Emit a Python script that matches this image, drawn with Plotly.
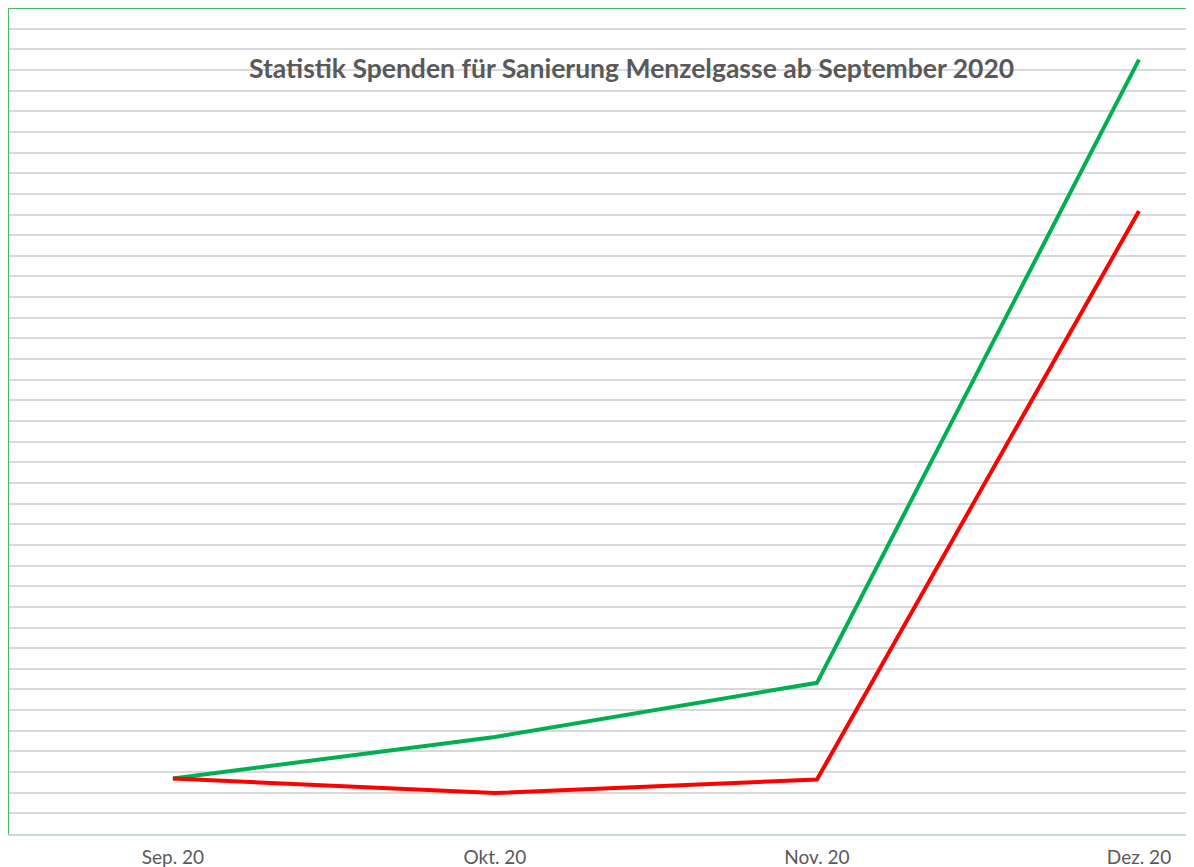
import plotly.graph_objects as go

months = ["Sep. 20", "Okt. 20", "Nov. 20", "Dez. 20"]
green_values = [2.69, 4.70, 7.32, 37.5]
red_values = [2.69, 1.98, 2.64, 30.17]
title_text = "Statistik Spenden für Sanierung Menzelgasse ab September 2020"

x_idx = list(range(len(months)))

# page body has an 8px margin; plot area spans x 8..1186, y 8..834 on the page
W, H = 1186, 859
L, R, T, B = 0, 8, 0, 33
pw, ph = W - L - R, H - T - B

fig = go.Figure()
fig.add_trace(go.Scatter(x=x_idx, y=green_values, mode="lines",
                         line=dict(color="#00B050", width=4), name="Gesamt"))
fig.add_trace(go.Scatter(x=x_idx, y=red_values, mode="lines",
                         line=dict(color="#FF0000", width=4), name="Spenden"))

fig.update_layout(
    width=W, height=H,
    margin=dict(l=L, r=R, t=T, b=B, autoexpand=False),
    paper_bgcolor="white", plot_bgcolor="white",
    showlegend=False,
    font=dict(family="Lato, Open Sans, sans-serif", color="#595959"),
    annotations=[dict(text="<b>" + title_text + "</b>",
                      x=(631 - 8) / pw, xref="paper",
                      y=(834 - 68) / ph, yref="paper",
                      xanchor="center", yanchor="middle", showarrow=False,
                      font=dict(size=26.5, color="#595959", family="Lato, sans-serif"))],
)

fig.update_xaxes(range=[-0.512, 3.146], tickvals=x_idx, ticktext=months,
                 automargin=False,
                 showgrid=False, zeroline=False, showline=True,
                 linecolor="#c5dccb", linewidth=2,
                 ticks="outside", ticklen=5, tickcolor="rgba(0,0,0,0)",
                 tickfont=dict(size=19, color="#595959", family="Lato, sans-serif"))
fig.update_yaxes(range=[0, 40], dtick=1, showticklabels=False, automargin=False,
                 showgrid=True, gridcolor="#d9d9d9", gridwidth=2,
                 zeroline=False, showline=False)

# chart border (green) on left and top
fig.add_shape(type="line", xref="paper", yref="paper", x0=0, x1=0, y0=0, y1=1,
              line=dict(color="#4CB865", width=2))
fig.add_shape(type="line", xref="paper", yref="paper", x0=0, x1=1, y0=1, y1=1,
              line=dict(color="#4CB865", width=2))

fig.write_html("out.html")
